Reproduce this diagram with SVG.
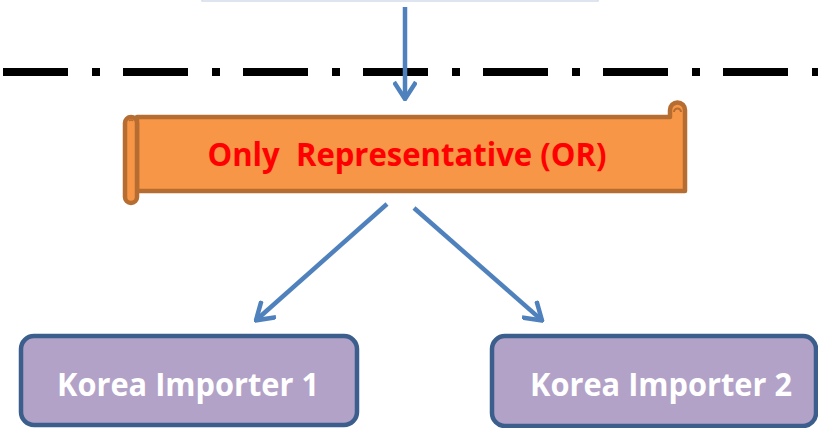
<svg xmlns="http://www.w3.org/2000/svg" width="818" height="428" viewBox="0 0 818 428">
  <style>
    .conn { fill: none; stroke: #4f81bd; stroke-width: 4.5; }
    .scroll { fill: #f79646; stroke: #b66d31; stroke-width: 4.5; stroke-linejoin: round; }
    .importer { fill: #b3a2c7; stroke: #3b5e8c; stroke-width: 4.5; }
    .label { font-family: "Open Sans", "Liberation Sans", sans-serif; font-weight: bold; font-size: 32px; text-anchor: middle; font-variant-ligatures: none; }
  </style>
  <defs>
    <marker id="arrow" viewBox="0 0 20 24" refX="18" refY="12" markerWidth="20" markerHeight="24" markerUnits="userSpaceOnUse" orient="auto">
      <path d="M1,1 L18,12 L1,23" fill="none" stroke="#4f81bd" stroke-width="4.5" stroke-linejoin="miter"/>
    </marker>
  </defs>

  <rect width="818" height="428" fill="#ffffff"/>

  <!-- upper box, mostly outside the frame -->
  <g id="source">
    <rect x="202" y="-40" width="396" height="41" fill="#ffffff" stroke="#d3ddec" stroke-width="1.5"/>
  </g>

  <!-- boundary line -->
  <line x1="3" y1="72" x2="818" y2="72" stroke="#000000" stroke-width="8" stroke-dasharray="65 24 8 23"/>

  <g id="or">
    <path class="scroll" d="M137,117 H670 V110 A7.5,7.5 0 0 1 685,110 V191 H137 Z"/>
    <path d="M674,112 A3.5,3.5 0 0 1 681,112" fill="none" stroke="#b66d31" stroke-width="2"/>
    <rect class="scroll" x="125" y="117" width="12" height="86" rx="6"/>
    <path d="M129,121 A2.5,2.5 0 0 1 133,121" fill="none" stroke="#b66d31" stroke-width="1.5"/>
    <text class="label" x="407" y="165.5" fill="#ff0000" xml:space="preserve" textLength="399" lengthAdjust="spacingAndGlyphs">Only  Representative (OR)</text>
  </g>

  <g id="importer1">
    <rect class="importer" x="21" y="336" width="336" height="89" rx="13"/>
    <text class="label" x="188" y="396" fill="#ffffff" textLength="262" lengthAdjust="spacingAndGlyphs">Korea Importer 1</text>
  </g>

  <g id="importer2">
    <rect class="importer" x="492" y="336" width="324" height="90" rx="13"/>
    <text class="label" x="661" y="396" fill="#ffffff" textLength="262" lengthAdjust="spacingAndGlyphs">Korea Importer 2</text>
  </g>

  <g id="connectors">
    <line class="conn" x1="405" y1="7" x2="405" y2="99" marker-end="url(#arrow)"/>
    <line class="conn" x1="387" y1="204" x2="256" y2="320.3" marker-end="url(#arrow)"/>
    <line class="conn" x1="414" y1="208" x2="542" y2="320.4" marker-end="url(#arrow)"/>
  </g>
</svg>
